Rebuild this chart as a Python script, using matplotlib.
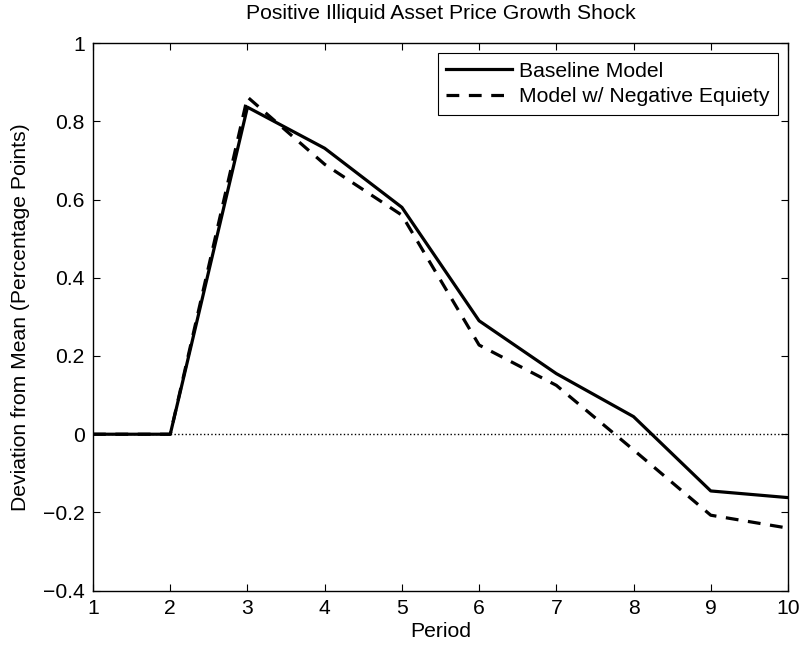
import matplotlib
matplotlib.use("Agg")
import matplotlib.pyplot as plt
import numpy as np

plt.rcParams['font.family'] = ['Liberation Sans', 'DejaVu Sans']

periods = [1, 2, 3, 4, 5, 6, 7, 8, 9, 10]
baseline = [0.0, 0.0, 0.836, 0.731, 0.580, 0.290, 0.155, 0.045, -0.145, -0.162]
neg_equity = [0.0, 0.0, 0.862, 0.690, 0.560, 0.228, 0.125, -0.040, -0.207, -0.240]
ytick_vals = [-0.4, -0.2, 0, 0.2, 0.4, 0.6, 0.8, 1]
ytick_text = ["\u22120.4", "\u22120.2", "0", "0.2", "0.4", "0.6", "0.8", "1"]

fs = 15.2

fig = plt.figure(figsize=(8.02, 6.52), dpi=100)
ax = fig.add_axes([0.116, 0.094, 0.8665, 0.84])

ax.plot(periods, baseline, "k-", linewidth=2.3, label="Baseline Model")
ax.plot(periods, neg_equity, "k--", linewidth=2.3, dashes=(4, 3), label="Model w/ Negative Equiety")
ax.axhline(0, color="k", linestyle=":", linewidth=1)

ax.set_xlim(1, 10)
ax.set_ylim(-0.4, 1)
ax.set_xticks(periods)
ax.set_yticks(ytick_vals)
ax.set_yticklabels(ytick_text)
ax.tick_params(direction="in", top=True, right=True, labelsize=fs, length=5, width=0.8, pad=6)
for s in ax.spines.values():
    s.set_linewidth(1)

ax.set_xlabel("Period", fontsize=fs, labelpad=3)
ax.set_ylabel("Deviation from Mean (Percentage Points)", fontsize=fs, labelpad=9)
ax.set_title("Positive Illiquid Asset Price Growth Shock", fontsize=fs, pad=17)

leg = ax.legend(loc="upper right", fontsize=fs, fancybox=False, edgecolor="k",
                framealpha=1, bbox_to_anchor=(0.9855, 0.981), borderaxespad=0,
                handlelength=3.1, handletextpad=0.35, borderpad=0.4,
                labelspacing=0.3)
leg.get_frame().set_linewidth(0.8)

fig.savefig("out.png", dpi=100)
